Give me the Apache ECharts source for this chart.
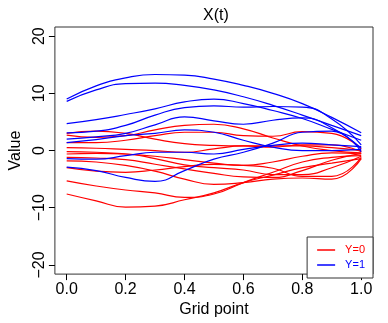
<!DOCTYPE html>
<html>
<head>
<meta charset="utf-8">
<script src="https://cdn.jsdelivr.net/npm/echarts@6/dist/echarts.min.js"></script>
<style>
  html, body { margin: 0; padding: 0; background: #fff; }
  #chart { width: 388px; height: 323px; }
</style>
</head>
<body>
<div id="chart"></div>
<script>
// grid points on the x axis
const gridPts = [0, 0.1, 0.2, 0.3, 0.4, 0.5, 0.6, 0.7, 0.8, 0.9, 1.0]
const xTicks = [0, 0.2, 0.4, 0.6, 0.8, 1.0]
const yTicks = [-20, -10, 0, 10, 20]

// Y=0 curves (red)
const red1 = [3.0, 3.4, 3.0, 2.0, 1.2, 0.9, 0.8, 0.8, 0.8, 0.5, 0.0]
const red2 = [2.7, 2.3, 2.6, 3.6, 4.4, 4.6, 3.8, 2.2, 0.8, 0.0, -0.4]
const red3 = [1.4, 1.4, 1.8, 2.6, 3.2, 3.2, 2.6, 2.5, 3.3, 3.0, 0.3]
const red4 = [0.5, 0.4, 0.2, 0.0, -0.3, 0.3, 0.8, 0.6, 1.0, 1.0, -0.2]
const red5 = [-0.2, -0.3, -0.6, -1.0, -1.6, -2.2, -2.6, -2.0, -1.0, -0.4, -0.6]
const red6 = [-0.6, -0.5, -0.6, -1.4, -2.5, -3.0, -3.4, -4.2, -4.2, -3.0, -1.0]
const red7 = [-1.2, -1.3, -1.6, -2.4, -3.2, -4.0, -4.6, -4.7, -3.5, -1.7, -0.5]
const red8 = [-1.8, -2.0, -2.6, -3.6, -5.0, -5.9, -5.6, -5.0, -4.8, -5.0, -1.4]
const red9 = [-3.0, -3.6, -3.8, -3.4, -2.8, -2.4, -2.6, -3.1, -4.5, -4.5, -1.2]
const red10 = [-5.3, -6.2, -6.9, -7.4, -8.2, -7.6, -5.6, -3.8, -2.0, -1.2, -0.9]
const red11 = [-7.6, -8.8, -9.9, -9.7, -8.6, -7.4, -5.6, -4.3, -3.0, -2.2, -1.4]

// Y=1 curves (blue)
const blue1 = [9.0, 11.3, 12.7, 13.3, 13.2, 12.5, 11.4, 10.0, 8.2, 5.8, 3.1]
const blue2 = [8.6, 10.6, 11.7, 11.8, 11.4, 10.6, 9.4, 7.9, 6.2, 4.4, 2.6]
const blue3 = [4.7, 5.4, 6.3, 7.3, 8.5, 9.0, 8.2, 7.0, 5.6, 3.7, 1.8]
const blue4 = [3.1, 3.4, 4.4, 6.2, 7.5, 7.8, 7.6, 7.7, 7.6, 5.5, 1.0]
const blue5 = [2.0, 2.4, 3.0, 4.5, 5.9, 5.2, 4.6, 5.3, 5.7, 4.0, 0.4]
const blue6 = [1.4, 1.9, 2.6, 3.0, 3.6, 3.2, 1.8, 0.6, 0.0, 0.0, 0.2]
const blue7 = [-1.4, -1.5, -0.9, -0.3, -0.3, -0.6, 0.2, 0.9, 1.3, 1.0, 0.7]
const blue8 = [-2.9, -3.5, -4.7, -5.4, -3.5, -1.5, -0.3, 1.3, 3.2, 3.4, -0.2]

const redCurves = [red1, red2, red3, red4, red5, red6, red7, red8, red9, red10, red11]
const blueCurves = [blue1, blue2, blue3, blue4, blue5, blue6, blue7, blue8]

const font = 'Liberation Sans, Arial, Helvetica, sans-serif'

function makeSeries(name, vals, color) {
  return {
    name: name,
    type: 'line',
    smooth: 0.5,
    symbol: 'none',
    silent: true,
    data: gridPts.map((t, i) => [t, vals[i]]),
    lineStyle: { color: color, width: 1.2 },
    itemStyle: { color: color }
  }
}

const series = []
redCurves.forEach(c => series.push(makeSeries('Y=0', c, '#ff0000')))
blueCurves.forEach(c => series.push(makeSeries('Y=1', c, '#0000ff')))

const chart = echarts.init(document.getElementById('chart'))
chart.setOption({
  animation: false,
  title: {
    text: 'X(t)',
    left: 211,
    top: 3,
    textAlign: 'center',
    textStyle: { fontFamily: font, fontSize: 16, fontWeight: 'normal', color: '#000' }
  },
  legend: {
    orient: 'vertical',
    right: 15,
    bottom: 45,
    padding: [7, 8, 7, 10],
    itemGap: 3,
    itemWidth: 18,
    itemHeight: 1.5,
    icon: 'rect',
    borderColor: '#333',
    borderWidth: 1,
    backgroundColor: '#fff',
    selectedMode: false,
    textStyle: { fontFamily: font, fontSize: 11, lineHeight: 12, padding: [0, 0, 0, 5] },
    data: [
      { name: 'Y=0', textStyle: { color: '#ff0000' } },
      { name: 'Y=1', textStyle: { color: '#0000ff' } }
    ]
  },
  grid: {
    left: 50,
    right: 15,
    top: 27,
    bottom: 45,
    show: true,
    borderColor: '#333',
    borderWidth: 1,
    backgroundColor: 'transparent'
  },
  xAxis: {
    type: 'value',
    min: -0.04,
    max: 1.04,
    name: 'Grid point',
    nameLocation: 'middle',
    nameGap: 23,
    nameTextStyle: { fontFamily: font, fontSize: 16, color: '#000' },
    axisLine: { show: false, onZero: false },
    axisTick: { show: true, length: 6, customValues: xTicks, lineStyle: { color: '#000' } },
    axisLabel: {
      customValues: xTicks,
      margin: 7,
      fontFamily: font,
      fontSize: 16,
      color: '#000',
      formatter: v => v.toFixed(1)
    },
    splitLine: { show: false }
  },
  yAxis: {
    type: 'value',
    min: -21.6,
    max: 21.6,
    name: 'Value',
    nameLocation: 'middle',
    nameGap: 29,
    nameTextStyle: { fontFamily: font, fontSize: 16, color: '#000' },
    axisLine: { show: false, onZero: false },
    axisTick: { show: true, length: 6, customValues: yTicks, lineStyle: { color: '#000' } },
    axisLabel: {
      customValues: yTicks,
      rotate: 90,
      margin: 7,
      fontFamily: font,
      fontSize: 16,
      color: '#000',
      formatter: v => String(v).replace('-', '\u2212')
    },
    splitLine: { show: false }
  },
  series: series
})
</script>
</body>
</html>
